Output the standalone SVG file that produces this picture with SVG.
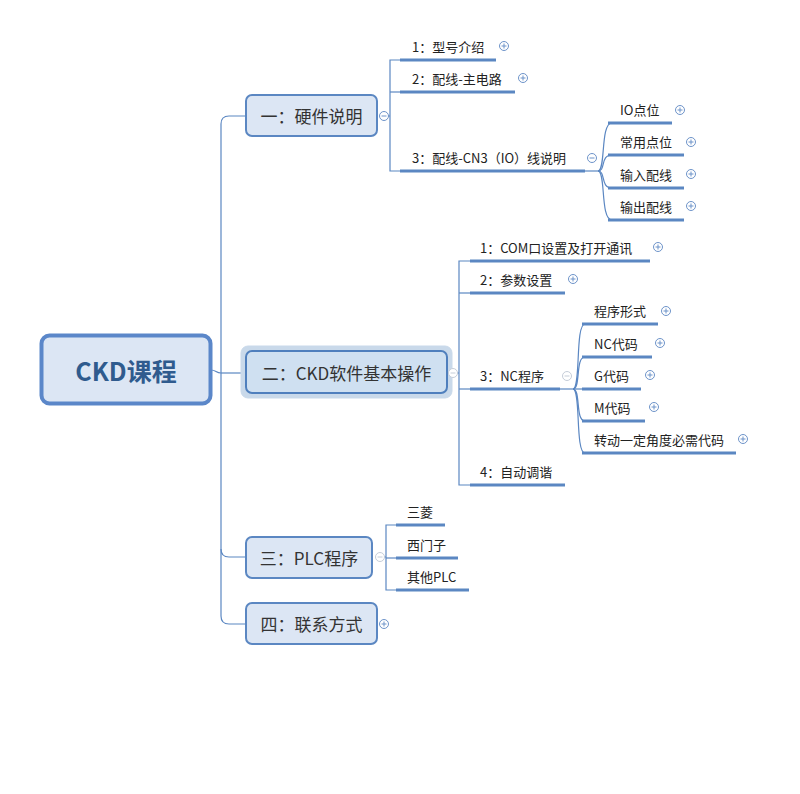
<svg xmlns="http://www.w3.org/2000/svg" width="800" height="794" viewBox="0 0 800 794">
<style>
.bg{fill:#ffffff}
.ln{fill:none;stroke:#5b87c2;stroke-width:1.2}
.ul{stroke:#5b87c2;stroke-width:3;stroke-linecap:butt}
.box{fill:#dce6f4;stroke:#5b87c2;stroke-width:2}
.t1{font-family:"Noto Sans CJK SC","Liberation Sans",sans-serif;font-size:17px;fill:#333333;text-anchor:middle;dominant-baseline:central}
.t2{font-family:"Noto Sans CJK SC","Liberation Sans",sans-serif;font-size:13px;fill:#222222}
.tog{fill:#ffffff;stroke:#6d93c9;stroke-width:1}
.sym{stroke:#6d93c9;stroke-width:1}
</style>
<defs>
<g id="plus"><circle class="tog" r="4.5"/><path class="sym" d="M-2.5,0H2.5M0,-2.5V2.5"/></g>
<g id="minus"><circle class="tog" r="4.5"/><path class="sym" d="M-2.5,0H2.5"/></g>
</defs>
<rect class="bg" width="800" height="794"/>

<g id="connectors">
<path class="ln" d="M211,370 C216,370 216,373 221,373"/>
<path class="ln" d="M246,116 H229 Q221,116 221,124 V616 Q221,624 229,624 H246"/>
<path class="ln" d="M221,373 H246"/>
<path class="ln" d="M221,549 Q221,557 229,557 H246"/>
<path class="ln" d="M388,116 H390"/>
<path class="ln" d="M400,60 H390 V171 H400"/>
<path class="ln" d="M390,92 H400"/>
<path class="ln" d="M585,171 H600"/>
<path class="ln" d="M598,171 C606,171 600,123 612,123"/>
<path class="ln" d="M598,171 C606,171 600,155 612,155"/>
<path class="ln" d="M598,171 C606,171 600,188 612,188"/>
<path class="ln" d="M598,171 C606,171 600,220 612,220"/>
<path class="ln" d="M457,373 H459"/>
<path class="ln" d="M470,261 H459 V485 H470"/>
<path class="ln" d="M459,293 H470"/>
<path class="ln" d="M459,389 H470"/>
<path class="ln" d="M560,389 H574"/>
<path class="ln" d="M573,389 C581,389 575,324 585,324"/>
<path class="ln" d="M573,389 C581,389 575,357 585,357"/>
<path class="ln" d="M573,389 H585"/>
<path class="ln" d="M573,389 C581,389 575,421 585,421"/>
<path class="ln" d="M573,389 C581,389 575,453 585,453"/>
<path class="ln" d="M384,557 H386"/>
<path class="ln" d="M396,525 H386 V590 H396"/>
<path class="ln" d="M386,558 H396"/>
</g>

<g id="root">
<rect x="41.5" y="335.5" width="169" height="68" rx="8" fill="#dce6f4" stroke="#5b87c9" stroke-width="4"/>
<text x="126" y="370" font-family="'Noto Sans CJK SC','Liberation Sans',sans-serif" font-size="25" font-weight="bold" fill="#2f5b8e" text-anchor="middle" dominant-baseline="central">CKD课程</text>
</g>

<g id="n1">
<rect class="box" x="246" y="95" width="131" height="41" rx="6"/>
<text class="t1" x="311.5" y="115.5">一：硬件说明</text>
<use href="#minus" x="384" y="116"/>
</g>
<g id="n1-1"><text class="t2" x="412" y="52">1：型号介绍</text><line class="ul" x1="400" y1="60" x2="496" y2="60"/><use href="#plus" x="504" y="46"/></g>
<g id="n1-2"><text class="t2" x="412" y="84">2：配线-主电路</text><line class="ul" x1="400" y1="92" x2="515" y2="92"/><use href="#plus" x="523" y="78"/></g>
<g id="n1-3"><text class="t2" x="412" y="163">3：配线-CN3（IO）线说明</text><line class="ul" x1="400" y1="171" x2="585" y2="171"/><use href="#minus" x="592" y="158"/></g>
<g id="n1-3-1"><text class="t2" x="620" y="115">IO点位</text><line class="ul" x1="608" y1="123" x2="672" y2="123"/><use href="#plus" x="680" y="110"/></g>
<g id="n1-3-2"><text class="t2" x="620" y="147">常用点位</text><line class="ul" x1="608" y1="155" x2="684" y2="155"/><use href="#plus" x="691" y="142"/></g>
<g id="n1-3-3"><text class="t2" x="620" y="180">输入配线</text><line class="ul" x1="608" y1="188" x2="684" y2="188"/><use href="#plus" x="691" y="174"/></g>
<g id="n1-3-4"><text class="t2" x="620" y="212">输出配线</text><line class="ul" x1="608" y1="220" x2="684" y2="220"/><use href="#plus" x="691" y="206"/></g>

<g id="n2">
<rect x="241" y="346" width="211" height="52" rx="7" fill="#c9d9ea" stroke="#c9d9ea" stroke-width="1"/>
<rect x="246" y="351" width="201" height="42" rx="6" fill="#cfe0f1" stroke="#4f7fbd" stroke-width="2"/>
<text class="t1" x="346.5" y="372.5">二：CKD软件基本操作</text>
<circle cx="453" cy="373" r="4.5" fill="#ffffff" stroke="#c5cdd8" stroke-width="1"/><path d="M450.5,373H455.5" stroke="#c5cdd8" stroke-width="1"/>
</g>
<g id="n2-1"><text class="t2" x="480" y="253">1：COM口设置及打开通讯</text><line class="ul" x1="470" y1="261" x2="650" y2="261"/><use href="#plus" x="658" y="247"/></g>
<g id="n2-2"><text class="t2" x="480" y="285">2：参数设置</text><line class="ul" x1="470" y1="293" x2="565" y2="293"/><use href="#plus" x="573" y="279"/></g>
<g id="n2-3"><text class="t2" x="480" y="381">3：NC程序</text><line class="ul" x1="470" y1="389" x2="560" y2="389"/><circle cx="567" cy="376" r="4.5" fill="#ffffff" stroke="#c5cdd8" stroke-width="1"/><path d="M564.5,376H569.5" stroke="#c5cdd8" stroke-width="1"/></g>
<g id="n2-4"><text class="t2" x="480" y="477">4：自动调谐</text><line class="ul" x1="470" y1="485" x2="565" y2="485"/></g>
<g id="n2-3-1"><text class="t2" x="594" y="316">程序形式</text><line class="ul" x1="582" y1="324" x2="658" y2="324"/><use href="#plus" x="666" y="311"/></g>
<g id="n2-3-2"><text class="t2" x="594" y="349">NC代码</text><line class="ul" x1="582" y1="357" x2="652" y2="357"/><use href="#plus" x="660" y="343"/></g>
<g id="n2-3-3"><text class="t2" x="594" y="381">G代码</text><line class="ul" x1="582" y1="389" x2="641" y2="389"/><use href="#plus" x="650" y="375"/></g>
<g id="n2-3-4"><text class="t2" x="594" y="413">M代码</text><line class="ul" x1="582" y1="421" x2="645" y2="421"/><use href="#plus" x="654" y="407"/></g>
<g id="n2-3-5"><text class="t2" x="594" y="445">转动一定角度必需代码</text><line class="ul" x1="582" y1="453" x2="736" y2="453"/><use href="#plus" x="743" y="439"/></g>

<g id="n3">
<rect class="box" x="246" y="537" width="126" height="41" rx="6"/>
<text class="t1" x="309" y="557.5">三：PLC程序</text>
<circle cx="380" cy="557" r="4.5" fill="#ffffff" stroke="#c5cdd8" stroke-width="1"/><path d="M377.5,557H382.5" stroke="#c5cdd8" stroke-width="1"/>
</g>
<g id="n3-1"><text class="t2" x="407" y="517">三菱</text><line class="ul" x1="396" y1="525" x2="445" y2="525"/></g>
<g id="n3-2"><text class="t2" x="407" y="550">西门子</text><line class="ul" x1="396" y1="558" x2="458" y2="558"/></g>
<g id="n3-3"><text class="t2" x="407" y="582">其他PLC</text><line class="ul" x1="396" y1="590" x2="469" y2="590"/></g>

<g id="n4">
<rect class="box" x="246" y="603" width="131" height="41" rx="6"/>
<text class="t1" x="311.5" y="623.5">四：联系方式</text>
<use href="#plus" x="384" y="624"/>
</g>
</svg>
